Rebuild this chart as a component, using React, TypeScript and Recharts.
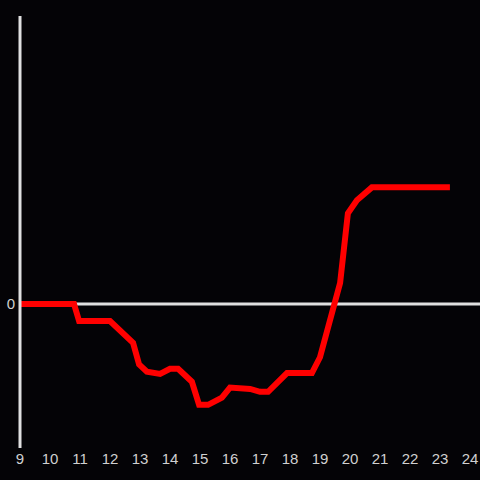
import { LineChart, Line, XAxis, YAxis, ReferenceLine } from "recharts";

// hours of the day (decimal)
const hours = [
  9.0, 10.8, 10.97, 11.2, 12.0, 12.77, 12.97, 13.23, 13.67, 14.0, 14.27,
  14.73, 14.97, 15.27, 15.73, 16.0, 16.67, 17.0, 17.27, 17.9, 18.73, 19.0,
  19.67, 19.93, 20.23, 20.73, 23.33,
];
const values = [
  0, 0, -0.118, -0.118, -0.118, -0.27, -0.42, -0.47, -0.486, -0.45, -0.45,
  -0.54, -0.7, -0.7, -0.65, -0.58, -0.59, -0.61, -0.61, -0.48, -0.48, -0.37,
  0.146, 0.63, 0.72, 0.81, 0.81,
];
const xTicks = [9, 10, 11, 12, 13, 14, 15, 16, 17, 18, 19, 20, 21, 22, 23, 24];
const yTicks = [0];

const data = hours.map((h, i) => ({ hour: h, value: values[i] }));

const tickStyle = { fill: "#d0d0d0", fontSize: 15, fontFamily: "Liberation Sans" };

export default function App() {
  return (
    <div
      style={{
        position: "fixed",
        left: 0,
        top: 0,
        width: 480,
        height: 480,
        background: "#040306",
      }}
    >
      <LineChart
        width={480}
        height={480}
        data={data}
        margin={{ top: 16, right: 0, bottom: 0, left: 0 }}
      >
        <XAxis
          dataKey="hour"
          type="number"
          domain={[9, 24.3333]}
          ticks={xTicks}
          allowDataOverflow
          axisLine={false}
          tickLine={false}
          height={32}
          tickMargin={1}
          tickSize={4}
          fontSize={15}
          tick={tickStyle}
        />
        <YAxis
          domain={[-1, 2]}
          ticks={yTicks}
          width={20}
          axisLine={{ stroke: "#e0e0e0", strokeWidth: 3 }}
          tickLine={false}
          tickSize={3}
          tickMargin={2}
          fontSize={15}
          tick={tickStyle}
        />
        <ReferenceLine y={0} stroke="#e0e0e0" strokeWidth={3} />
        <Line
          type="linear"
          dataKey="value"
          stroke="#ff0000"
          strokeWidth={6}
          dot={false}
          isAnimationActive={false}
        />
      </LineChart>
    </div>
  );
}
